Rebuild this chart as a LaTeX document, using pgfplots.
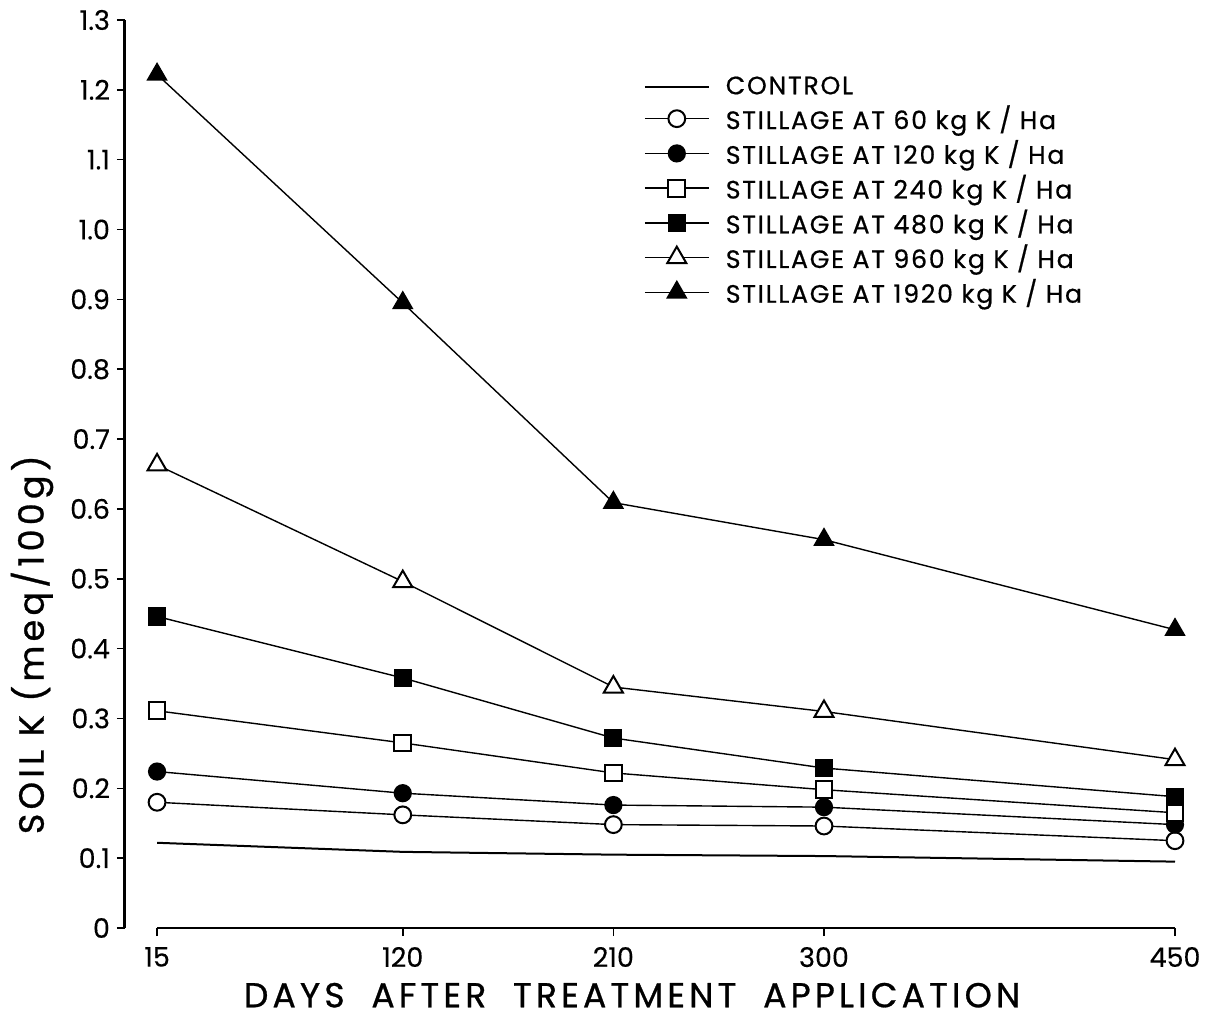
\documentclass[border=0pt]{standalone}
\usepackage{fontspec}
\setmainfont{Poppins}
\newfontfamily\labelfont[LetterSpace=12,FakeBold=0.8]{Poppins}
\newfontfamily\legfont[LetterSpace=7,FakeBold=0.6]{Poppins}
\newfontfamily\tickfont[FakeBold=0.3]{Poppins}
\usepackage{pgfplots}
\pgfplotsset{compat=1.18}
\begin{document}
\begin{tikzpicture}
\path[use as bounding box] (-62.5pt,-44.5pt) rectangle (542.5pt,464pt);
\begin{axis}[
  at={(0,0)}, anchor=south west,
  width=525pt, height=454pt, scale only axis,
  xmin=1.3, xmax=450, ymin=0, ymax=1.3,
  axis lines*=left,
  x axis line style={draw=none},
  y axis line style={line width=1.5pt},
  xtick={15,120,210,300,450},
  xticklabels={15,120,210,300,450},
  ytick={0,0.1,0.2,0.3,0.4,0.5,0.6,0.7,0.8,0.9,1.0,1.1,1.2,1.3},
  yticklabels={0,0.1,0.2,0.3,0.4,0.5,0.6,0.7,0.8,0.9,1.0,1.1,1.2,1.3},
  tick align=outside, major tick length=4pt,
  tick style={black, line width=0.8pt},
  ticklabel style={font=\tickfont\fontsize{13.5}{15}\selectfont},
  xticklabel style={yshift=-2pt},
  /pgf/number format/assume math mode=true,
  clip=false,
  xlabel={\labelfont\fontsize{17.3}{20}\selectfont DAYS\ \ AFTER\ \ TREATMENT\ \ APPLICATION},
  ylabel={\labelfont\fontsize{17.5}{20}\selectfont SOIL\ K\ (meq/100g)},
  every axis x label/.style={at={(axis description cs:0.483,-0.074)}, anchor=center},
  every axis y label/.style={at={(axis description cs:-0.0886,0.312)}, anchor=center, rotate=90},
  legend cell align=left,
  legend style={draw=none, fill=none, at={(0.488,0.947)}, anchor=north west,
    font=\legfont\fontsize{12.6}{14}\selectfont, row sep=0pt,
    nodes={inner xsep=8pt}},
  legend image code/.code={\draw[mark repeat=2,mark phase=2] plot coordinates {(0pt,0pt) (16pt,0pt) (32pt,0pt)};},
]
\addplot[black, line width=1pt, no marks] table {
x y
15 0.122
120 0.109
210 0.105
300 0.103
450 0.095
};
\addlegendentry{CONTROL}
\addplot[black, line width=0.7pt, mark=*, mark size=4.2pt, mark options={fill=white, line width=1pt}] table {
x y
15 0.180
120 0.162
210 0.148
300 0.146
450 0.125
};
\addlegendentry{STILLAGE AT 60 kg K / Ha}
\addplot[black, line width=0.7pt, mark=*, mark size=4.2pt, mark options={fill=black}] table {
x y
15 0.224
120 0.193
210 0.176
300 0.173
450 0.148
};
\addlegendentry{STILLAGE AT 120 kg K / Ha}
\addplot[black, line width=0.7pt, mark=square*, mark size=4.2pt, mark options={fill=white, line width=1pt}] table {
x y
15 0.311
120 0.265
210 0.222
300 0.198
450 0.165
};
\addlegendentry{STILLAGE AT 240 kg K / Ha}
\addplot[black, line width=0.7pt, mark=square*, mark size=4.2pt, mark options={fill=black}] table {
x y
15 0.446
120 0.358
210 0.272
300 0.229
450 0.188
};
\addlegendentry{STILLAGE AT 480 kg K / Ha}
\addplot[black, line width=0.7pt, mark=triangle*, mark size=5.5pt, mark options={fill=white, line width=1pt}] table {
x y
15 0.663
120 0.496
210 0.345
300 0.310
450 0.241
};
\addlegendentry{STILLAGE AT 960 kg K / Ha}
\addplot[black, line width=0.7pt, mark=triangle*, mark size=5.5pt, mark options={fill=black}] table {
x y
15 1.222
120 0.895
210 0.609
300 0.556
450 0.427
};
\addlegendentry{STILLAGE AT 1920 kg K / Ha}
\draw[line width=1.2pt] (axis cs:15,0) -- (axis cs:450,0);
\end{axis}
\end{tikzpicture}
\end{document}
